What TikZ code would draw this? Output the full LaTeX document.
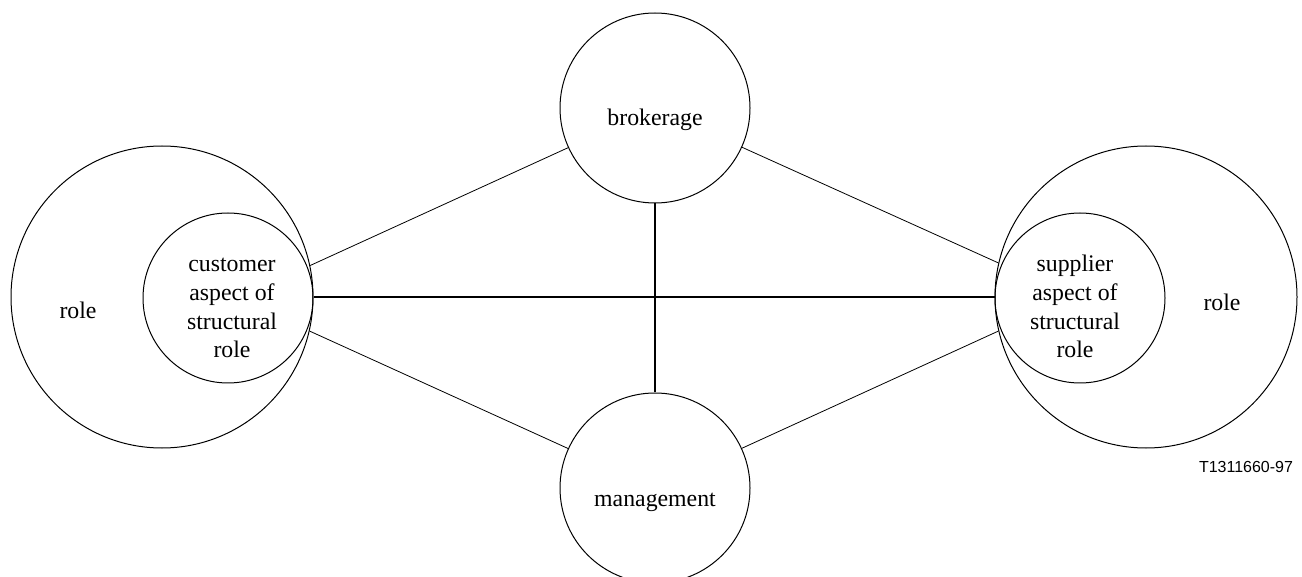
\documentclass[tikz,border=0pt]{standalone}
\usepackage{fontspec}
\setmainfont{Liberation Serif}
\newfontfamily\labelsans{Liberation Sans}
\begin{document}
\begin{tikzpicture}[x=1pt,y=-1pt,
  ring/.style={circle,draw,line width=1pt,inner sep=0pt},
  thinlink/.style={line width=0.8pt},
  thicklink/.style={line width=1.8pt},
  lbl/.style={font=\fontsize{23.8}{28.7}\selectfont, align=center, anchor=base, inner sep=0pt},
  tag/.style={font=\labelsans\fontsize{16}{19}\selectfont, anchor=base, inner sep=0pt}]
\useasboundingbox (0,0) rectangle (1302,577);
\node[ring, minimum size=302pt] (lout) at (162,297) {};
\node[ring, minimum size=170pt] (lin) at (228,298) {};
\node[ring, minimum size=302pt] (rout) at (1146,297) {};
\node[ring, minimum size=170pt] (rin) at (1080,298) {};
\node[ring, minimum size=190pt] (brk) at (655,108) {};
\node[ring, minimum size=190pt] (mgt) at (655,488) {};
\node[lbl] (t1) at (78,319) {role};
\node[lbl] (t2) at (232,358) {customer\\aspect of\\structural\\role};
\node[lbl] (t3) at (655,126) {brokerage};
\node[lbl] (t4) at (655,506) {management};
\node[lbl] (t5) at (1075,358) {supplier\\aspect of\\structural\\role};
\node[lbl] (t6) at (1222,311) {role};
\node[tag] (t7) at (1246,472) {T1311660-97};
\draw[thinlink] (brk) -- (lout.12);
\draw[thinlink] (mgt) -- (lout.-13);
\draw[thinlink] (brk) -- (rout.167.5);
\draw[thinlink] (mgt) -- (rout.193);
\draw[thicklink] (lout.east) -- (rout.west);
\draw[thicklink] (brk.south) -- (mgt.north);
\end{tikzpicture}
\end{document}
